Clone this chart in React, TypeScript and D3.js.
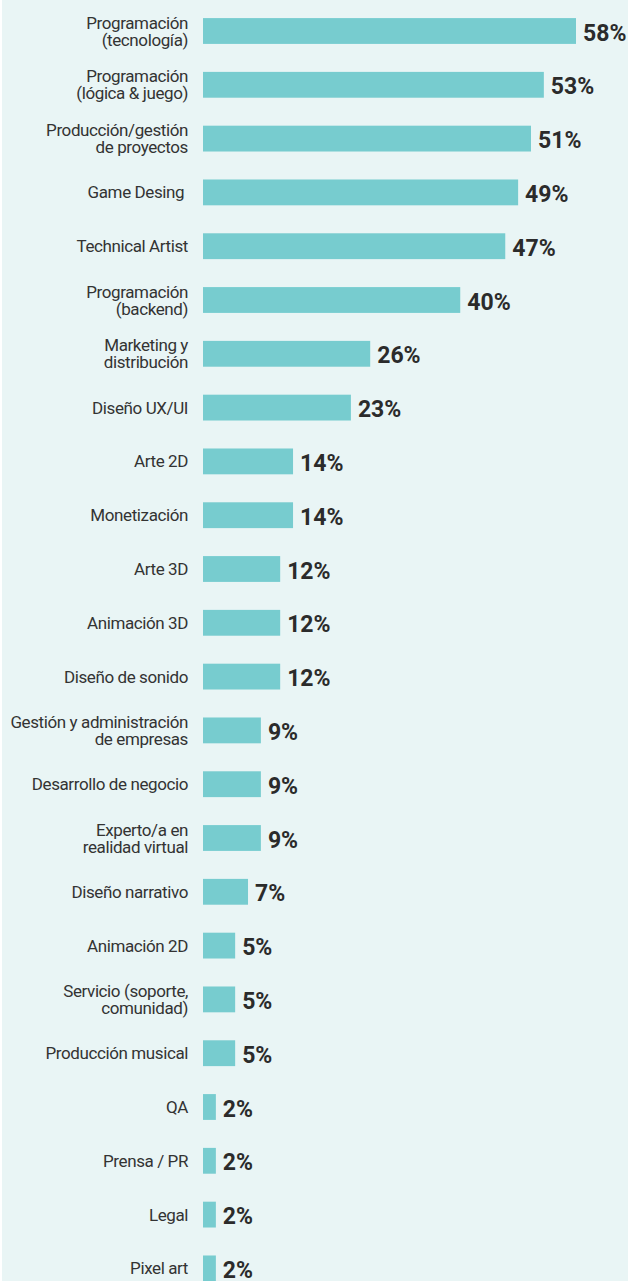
import * as d3 from "d3";

const categories = [
  "Programación\n(tecnología)",
  "Programación\n(lógica & juego)",
  "Producción/gestión\nde proyectos",
  "Game Desing ",
  "Technical Artist",
  "Programación\n(backend)",
  "Marketing y\ndistribución",
  "Diseño UX/UI",
  "Arte 2D",
  "Monetización",
  "Arte 3D",
  "Animación 3D",
  "Diseño de sonido",
  "Gestión y administración\nde empresas",
  "Desarrollo de negocio",
  "Experto/a en\nrealidad virtual",
  "Diseño narrativo",
  "Animación 2D",
  "Servicio (soporte,\ncomunidad)",
  "Producción musical",
  "QA",
  "Prensa / PR",
  "Legal",
  "Pixel art",
];

const values = [58, 53, 51, 49, 47, 40, 26, 23, 14, 14, 12, 12, 12, 9, 9, 9, 7, 5, 5, 5, 2, 2, 2, 2];

export default function App() {
  const width = 628;
  const height = 1281;
  const step = 53.8;
  const firstCenter = 31;

  const y = d3
    .scaleBand<string>()
    .domain(categories)
    .range([firstCenter - step / 2, firstCenter - step / 2 + step * categories.length])
    .paddingInner(0.52)
    .paddingOuter(0.26);

  const x = d3.scaleLinear().domain([0, 58]).range([203, 576]);

  const labelFont = "Roboto, 'Noto Sans', sans-serif";

  return (
    <div style={{ position: "absolute", left: 0, top: 0 }}>
      <svg width={width} height={height} style={{ display: "block" }}>
        <rect x={0} y={0} width={width} height={height} fill="#ffffff" />
        <rect x={2} y={0} width={width - 2} height={height} fill="#e9f5f5" />
        {categories.map((c, i) => {
          const yc = (y(c) ?? 0) + y.bandwidth() / 2;
          const lines = c.split("\n");
          const lh = 17;
          return (
            <g key={c}>
              <rect
                x={x(0)}
                y={y(c)}
                width={x(values[i]) - x(0)}
                height={y.bandwidth()}
                fill="#77cccf"
              />
              <text
                x={188}
                y={yc - ((lines.length - 1) * lh) / 2}
                textAnchor="end"
                dominantBaseline="central"
                fontFamily={labelFont}
                fontSize={17}
                fill="#333333"
                style={{ whiteSpace: "pre", letterSpacing: "-0.4px" }}
              >
                {lines.map((l, j) => (
                  <tspan key={j} x={188} dy={j === 0 ? 0 : lh}>
                    {l}
                  </tspan>
                ))}
              </text>
              <text
                x={x(values[i]) + 7}
                y={yc + 2}
                dominantBaseline="central"
                fontFamily={labelFont}
                fontWeight={700}
                fontSize={23}
                fill="#2b2b2b"
              >
                {values[i]}%
              </text>
            </g>
          );
        })}
      </svg>
    </div>
  );
}
